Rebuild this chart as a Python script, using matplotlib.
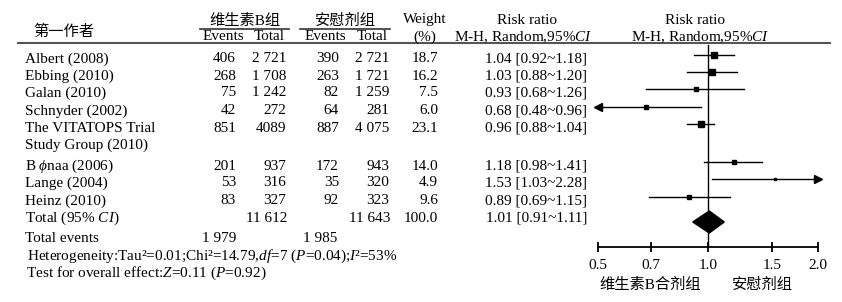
import matplotlib
matplotlib.use("Agg")
import matplotlib.pyplot as plt
from matplotlib.ticker import NullLocator

plt.rcParams['font.family'] = ['Liberation Serif', 'Noto Sans CJK SC', 'DejaVu Serif']
plt.rcParams['mathtext.fontset'] = 'custom'
plt.rcParams['mathtext.rm'] = 'Liberation Serif'
plt.rcParams['mathtext.it'] = 'Liberation Serif:italic'

# data
studies = ['Albert (2008)', 'Ebbing (2010)', 'Galan (2010)', 'Schnyder (2002)',
           'The VITATOPS Trial\nStudy Group (2010)', 'B $\\phi$naa (2006)',
           'Lange (2004)', 'Heinz (2010)']
events_b = [406, 268, 75, 42, 851, 201, 53, 83]
total_b = ['2 721', '1 708', '1 242', '272', '4089', '937', '316', '327']
events_p = [390, 263, 82, 64, 887, 172, 35, 92]
total_p = ['2 721', '1 721', '1 259', '281', '4 075', '943', '320', '323']
weight = [18.7, 16.2, 7.5, 6.0, 23.1, 14.0, 4.9, 9.6]
rr = [1.04, 1.03, 0.93, 0.68, 0.96, 1.18, 1.53, 0.89]
rr_lo = [0.92, 0.88, 0.68, 0.48, 0.88, 0.98, 1.03, 0.69]
rr_hi = [1.18, 1.20, 1.26, 0.96, 1.04, 1.41, 2.28, 1.15]
total_n = ['11 612', '11 643', '100.0']
total_rr = (1.01, 0.91, 1.11)
total_events = ['1 979', '1 985']
xticks = [0.5, 0.7, 1.0, 1.5, 2.0]

W, H = 842, 302
fig = plt.figure(figsize=(W / 100, H / 100), dpi=100)
ax = fig.add_axes([0, 0, 1, 1])
ax.set_xlim(0, W)
ax.set_ylim(H, 0)
ax.axis('off')

fs = 11
row_y = [59, 76, 93, 111, 128, 166, 183, 201]
y_total = 218

# headers
ax.text(64, 32, '第一作者', ha='center', va='center', fontsize=fs)
ax.text(245, 21, '维生素B组', ha='center', va='center', fontsize=fs)
ax.text(345, 21, '安慰剂组', ha='center', va='center', fontsize=fs)
ax.plot([200, 289], [29, 29], color='#333333', lw=1.2)
ax.plot([300, 390], [29, 29], color='#333333', lw=1.2)
ax.text(223, 37, 'Events', ha='center', va='center', fontsize=fs)
ax.text(269, 37, 'Total', ha='center', va='center', fontsize=fs)
ax.text(325, 37, 'Events', ha='center', va='center', fontsize=fs)
ax.text(372, 37, 'Total', ha='center', va='center', fontsize=fs)
ax.text(425, 20, 'Weight', ha='center', va='center', fontsize=fs)
ax.text(425, 37, '(%)', ha='center', va='center', fontsize=fs)
ax.text(527, 20, 'Risk ratio', ha='center', va='center', fontsize=fs)
ax.text(523, 37, 'M-H, Random,95%$CI$', ha='center', va='center', fontsize=fs)
ax.text(695, 20, 'Risk ratio', ha='center', va='center', fontsize=fs)
ax.text(700, 37, 'M-H, Random,95%$CI$', ha='center', va='center', fontsize=fs)
ax.plot([18, 830], [43, 43], color='#555555', lw=1.5)

# study rows
for i, y in enumerate(row_y):
    name = studies[i]
    if '\n' in name:
        first, second = name.split('\n')
        ax.text(25, y, first, ha='left', va='center', fontsize=fs)
        ax.text(25, y + 17, second, ha='left', va='center', fontsize=fs)
    else:
        ax.text(25, y, name, ha='left', va='center', fontsize=fs)
    ax.text(236, y, str(events_b[i]), ha='right', va='center', fontsize=fs)
    ax.text(286, y, total_b[i], ha='right', va='center', fontsize=fs)
    ax.text(339, y, str(events_p[i]), ha='right', va='center', fontsize=fs)
    ax.text(389, y, total_p[i], ha='right', va='center', fontsize=fs)
    ax.text(438, y, f'{weight[i]:.1f}', ha='right', va='center', fontsize=fs)
    ax.text(587, y, f'{rr[i]:.2f} [{rr_lo[i]:.2f}~{rr_hi[i]:.2f}]',
            ha='right', va='center', fontsize=fs)

ax.text(25, y_total, 'Total (95% $CI$)', ha='left', va='center', fontsize=fs)
ax.text(287, y_total, total_n[0], ha='right', va='center', fontsize=fs)
ax.text(390, y_total, total_n[1], ha='right', va='center', fontsize=fs)
ax.text(438, y_total, total_n[2], ha='right', va='center', fontsize=fs)
ax.text(587, y_total, f'{total_rr[0]:.2f} [{total_rr[1]:.2f}~{total_rr[2]:.2f}]',
        ha='right', va='center', fontsize=fs)
ax.text(25, 238, 'Total events', ha='left', va='center', fontsize=fs)
ax.text(236, 238, total_events[0], ha='right', va='center', fontsize=fs)
ax.text(337, 238, total_events[1], ha='right', va='center', fontsize=fs)
ax.text(27, 256, 'Heterogeneity:Tau²=0.01;Chi²=14.79,$df$=7 ($P$=0.04);$I$²=53%',
        ha='left', va='center', fontsize=fs)
ax.text(26, 273, 'Test for overall effect:$Z$=0.11 ($P$=0.92)',
        ha='left', va='center', fontsize=fs)

ax.text(650, 285, '维生素B合剂组', ha='center', va='center', fontsize=fs)
ax.text(762, 285, '安慰剂组', ha='center', va='center', fontsize=fs)

# forest plot
x0, x1 = 597.7, 817.7
fx = fig.add_axes([x0 / W, 0, (x1 - x0) / W, 1])
fx.set_xscale('log')
fx.set_xlim(0.5, 2.0)
fx.set_ylim(H, 0)
fx.patch.set_visible(False)
for s in ['top', 'left', 'right']:
    fx.spines[s].set_visible(False)
fx.spines['bottom'].set_position(('data', 247))
fx.spines['bottom'].set_linewidth(1.3)
fx.yaxis.set_visible(False)
fx.set_xticks(xticks)
fx.set_xticklabels([f'{t:.1f}' for t in xticks])
fx.xaxis.set_minor_locator(NullLocator())
fx.tick_params(axis='x', direction='inout', length=7, width=1.3,
               labelsize=fs, pad=5)

fx.plot([1, 1], [45, 247], color='black', lw=1)

for i, y in enumerate(row_y):
    lo = max(rr_lo[i], 0.5)
    hi = min(rr_hi[i], 2.0)
    fx.plot([lo, hi], [y - 4, y - 4], color='black', lw=1, clip_on=False)
    if rr_lo[i] < 0.5:
        fx.plot([0.5], [y - 4], marker='<', color='black', ms=6, clip_on=False)
    if rr_hi[i] > 2.0:
        fx.plot([2.0], [y - 4], marker='>', color='black', ms=6, clip_on=False)
    fx.plot([rr[i]], [y - 4], marker='s', color='black',
            ms=0.9 * weight[i] ** 0.5, clip_on=False)

m, lo, hi = total_rr
fx.fill([lo, m, hi, m], [y_total + 4, y_total - 7, y_total + 4, y_total + 15],
        color='black', clip_on=False)

fig.savefig('out.png', dpi=100)
